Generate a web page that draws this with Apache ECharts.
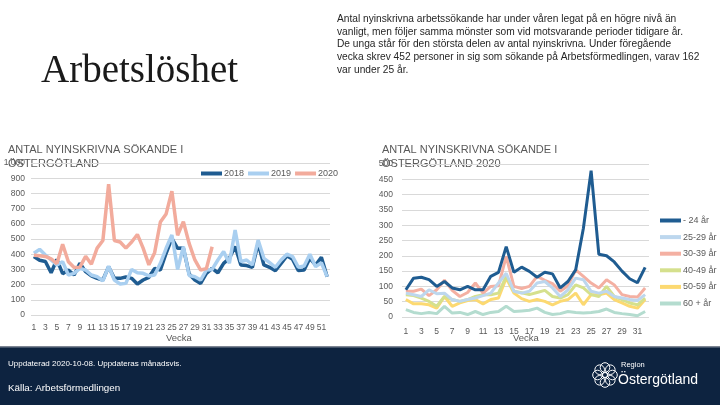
<!DOCTYPE html>
<html><head><meta charset="utf-8">
<script src="https://cdn.jsdelivr.net/npm/echarts@6/dist/echarts.min.js"></script>
<style>html,body{margin:0;padding:0;background:#fff}#c{width:720px;height:405px}</style>
</head><body><div id="c"></div>
<script>
const weeksLeft = ["1","2","3","4","5","6","7","8","9","10","11","12","13","14","15","16","17","18","19","20","21","22","23","24","25","26","27","28","29","30","31","32","33","34","35","36","37","38","39","40","41","42","43","44","45","46","47","48","49","50","51","52"];
const weeksRight = ["1","2","3","4","5","6","7","8","9","10","11","12","13","14","15","16","17","18","19","20","21","22","23","24","25","26","27","28","29","30","31","32"];
const y2018 = [385,360,352,278,365,272,296,263,340,285,257,241,230,318,241,241,250,241,204,230,248,307,296,406,504,439,440,270,230,208,274,307,278,340,373,450,329,325,314,471,329,314,292,340,389,366,292,296,373,329,380,252];
const y2019 = [406,432,395,362,329,351,263,274,307,296,263,252,225,322,230,204,208,300,278,274,257,263,340,439,526,300,450,260,252,230,296,300,362,417,340,559,351,362,329,493,373,344,314,362,400,384,314,322,400,318,344,252];
const y2020 = [393,390,385,370,338,466,350,312,315,386,334,440,490,861,490,480,440,480,530,440,330,410,612,665,815,525,614,471,362,296,305,449];
const age24 = [89,127,130,122,100,116,95,89,100,89,89,133,146,230,146,163,149,130,146,141,95,116,154,290,478,205,200,180,150,125,112,162];
const age25 = [78,73,67,89,76,78,57,51,57,62,70,78,111,143,84,78,84,111,116,95,67,89,127,122,84,78,84,67,62,57,54,73];
const age30 = [84,84,91,70,89,120,87,67,80,111,78,100,102,198,100,93,100,133,120,109,84,102,154,133,111,95,122,105,73,67,65,95];
const age40 = [73,70,62,51,35,67,57,51,57,67,73,73,78,133,84,79,73,80,87,67,62,73,105,95,73,67,100,67,57,46,40,62];
const age50 = [57,43,43,40,29,67,35,46,54,57,43,57,62,127,78,60,51,57,51,40,51,57,78,40,73,73,78,57,46,35,29,57];
const age60 = [24,15,11,15,11,35,13,15,8,18,8,15,18,35,18,20,22,29,15,8,11,18,15,13,15,18,26,15,11,8,4,18];
const leftTicks = {min:0, max:1000, interval:100};
const rightTicks = {min:0, max:500, interval:50};

const chart = echarts.init(document.getElementById('c'), null, {renderer:'canvas'});
const F = 'Liberation Sans';
const gray = '#595959';
const gridLine = {lineStyle:{color:'#d9d9d9', width:1}};
const cols = {y18:'#1f5c91', y19:'#a9cff0', y20:'#f2ab9c', a24:'#1f5c91', a25:'#bdd7ee', a30:'#f4b0a2', a40:'#d5e08d', a50:'#fcd971', a60:'#b4dccf'};
function ln(name, data, color, xi, w){return {name, type:'line', data, xAxisIndex:xi, yAxisIndex:xi, symbol:'none', lineStyle:{color, width:w}, itemStyle:{color}, z:2};}

const para = ['Antal nyinskrivna arbetssökande har under våren legat på en högre nivå än','vanligt, men följer samma mönster som vid motsvarande perioder tidigare år.','De unga står för den största delen av antal nyinskrivna. Under föregående','vecka skrev 452 personer in sig som sökande på Arbetsförmedlingen, varav 162','var under 25 år.'];

const logo = [];
for (let i=0;i<8;i++){const a=i*Math.PI/4; logo.push({type:'circle', z:12, shape:{cx:605+Math.cos(a)*7.5, cy:375+Math.sin(a)*7.5, r:4.8}, style:{fill:'none', stroke:'#fff', lineWidth:1}});}
logo.push({type:'circle', z:12, shape:{cx:605, cy:375, r:2.5}, style:{fill:'none', stroke:'#fff', lineWidth:1}});

chart.setOption({
  animation:false,
  textStyle:{fontFamily:F},
  grid:[{left:31, top:163, width:299, height:152},{left:402, top:164, width:247, height:153}],
  legend:[
    {data:['2018','2019','2020'], left:196, top:164, itemGap:4, itemWidth:21, itemHeight:4, icon:'rect', textStyle:{color:gray, fontSize:9, fontFamily:F, padding:[0,0,0,-3]}},
    {data:['- 24 år','25-29 år','30-39 år','40-49 år','50-59 år','60 + år'], orient:'vertical', left:655, top:211, itemGap:7.6, itemWidth:21, itemHeight:4, icon:'rect', textStyle:{color:gray, fontSize:9, fontFamily:F, padding:[0,0,0,-3]}}
  ],
  xAxis:[
    {type:'category', gridIndex:0, data:weeksLeft, boundaryGap:true, axisLine:{show:false}, axisTick:{show:false}, axisLabel:{interval:1, color:gray, fontSize:8.5, margin:8, fontFamily:F}},
    {type:'category', gridIndex:1, data:weeksRight, boundaryGap:true, axisLine:{show:false}, axisTick:{show:false}, axisLabel:{interval:1, color:gray, fontSize:8.5, margin:10, fontFamily:F}}
  ],
  yAxis:[
    {type:'value', gridIndex:0, min:leftTicks.min, max:leftTicks.max, interval:leftTicks.interval, axisLine:{show:false}, axisTick:{show:false}, splitLine:gridLine, axisLabel:{color:gray, fontSize:8.5, margin:6, fontFamily:F}},
    {type:'value', gridIndex:1, min:rightTicks.min, max:rightTicks.max, interval:rightTicks.interval, axisLine:{show:false}, axisTick:{show:false}, splitLine:gridLine, axisLabel:{color:gray, fontSize:8.5, margin:9, fontFamily:F}}
  ],
  series:[
    ln('2018', y2018, cols.y18, 0, 3.5),
    ln('2019', y2019, cols.y19, 0, 3.5),
    ln('2020', y2020, cols.y20, 0, 3.5),
    ln('60 + år', age60, cols.a60, 1, 3),
    ln('50-59 år', age50, cols.a50, 1, 3),
    ln('40-49 år', age40, cols.a40, 1, 3),
    ln('30-39 år', age30, cols.a30, 1, 3),
    ln('25-29 år', age25, cols.a25, 1, 3),
    ln('- 24 år', age24, cols.a24, 1, 3)
  ],
  graphic:[
    {type:'text', left:41, top:52, style:{text:'Arbetslöshet', font:'39px "Liberation Serif"', fill:'#1a1a1a'}},
    {type:'text', left:337, top:13, style:{text:para.join('\n'), font:'10.2px "Liberation Sans"', lineHeight:12.6, fill:'#262626'}},
    {type:'text', left:8, top:143, style:{text:'ANTAL NYINSKRIVNA SÖKANDE I\nÖSTERGÖTLAND', font:'11px "Liberation Sans"', lineHeight:14, fill:gray}},
    {type:'text', left:382, top:143, style:{text:'ANTAL NYINSKRIVNA SÖKANDE I\nÖSTERGÖTLAND 2020', font:'11px "Liberation Sans"', lineHeight:14, fill:gray}},
    {type:'text', left:166, top:333, style:{text:'Vecka', font:'9.5px "Liberation Sans"', fill:gray}},
    {type:'text', left:513, top:333, style:{text:'Vecka', font:'9.5px "Liberation Sans"', fill:gray}},
    {type:'rect', shape:{x:0, y:347, width:720, height:58}, style:{fill:'#0d2340'}, z:10},
    {type:'rect', shape:{x:0, y:346, width:720, height:1.5}, style:{fill:'#7d8593'}, z:10},
    {type:'text', left:8, top:360, z:11, style:{text:'Uppdaterad 2020-10-08. Uppdateras månadsvis.', font:'8px "Liberation Sans"', fill:'#fff'}},
    {type:'text', left:8, top:383, z:11, style:{text:'Källa: Arbetsförmedlingen', font:'9.8px "Liberation Sans"', fill:'#fff'}},
    {type:'text', left:621, top:361, z:11, style:{text:'Region', font:'7.5px "Liberation Sans"', fill:'#fff'}},
    {type:'text', left:618, top:373, z:11, style:{text:'Östergötland', font:'14px "Liberation Sans"', fill:'#fff'}}
  ].concat(logo)
});
</script></body></html>
